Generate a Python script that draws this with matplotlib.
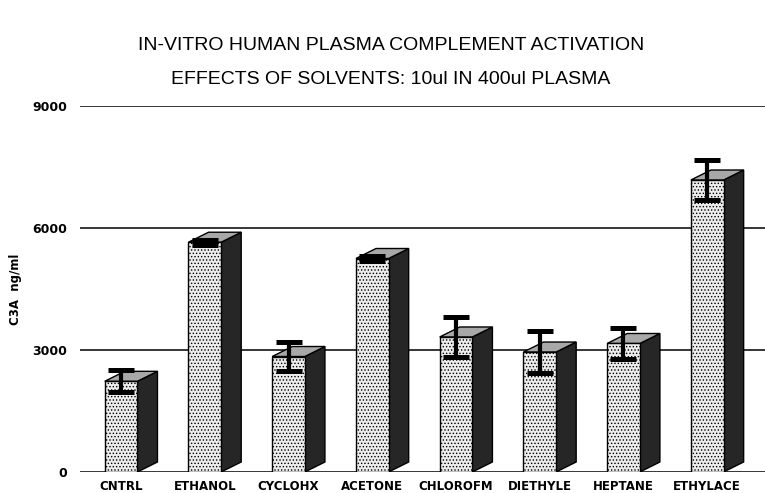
import matplotlib
matplotlib.use("Agg")

import matplotlib.pyplot as plt
from matplotlib.patches import Polygon, Rectangle

# data
solvents = ['CNTRL', 'ETHANOL', 'CYCLOHX', 'ACETONE',
            'CHLOROFM', 'DIETHYLE', 'HEPTANE', 'ETHYLACE']
c3a_mean = [2230, 5650, 2840, 5250, 3320, 2950, 3160, 7180]
c3a_err = [270, 60, 360, 60, 490, 520, 380, 490]
y_ticks = [0, 3000, 6000, 9000]

_TITLE_1 = 'IN-VITRO HUMAN PLASMA COMPLEMENT ACTIVATION'
_TITLE_2 = 'EFFECTS OF SOLVENTS: 10ul IN 400ul PLASMA'

_BAR_W = 0.39
_DEPTH_X = 0.24
_DEPTH_Y = 246


def draw_graph():
  plt.rcParams['hatch.color'] = '#8c8c8c'
  plt.rcParams['hatch.linewidth'] = 0.6

  fig = plt.figure(figsize=(7.65, 4.93), dpi=100)
  ax = fig.add_axes([80 / 765, 1 - 472 / 493, 685 / 765, 366 / 493])

  ax.set_xlim(-0.49, 7.69)
  ax.set_ylim(0, 9000)

  for val in y_ticks:
    ax.axhline(val, color='black', linewidth=1.1, zorder=1)

  for i, val in enumerate(c3a_mean):
    left = i - _BAR_W / 2
    right = i + _BAR_W / 2
    front = Rectangle((left, 0), _BAR_W, val, facecolor='#ececec',
                      edgecolor='black', linewidth=1.0, hatch='.....',
                      zorder=3)
    side = Polygon([(right, 0), (right + _DEPTH_X, _DEPTH_Y),
                    (right + _DEPTH_X, val + _DEPTH_Y), (right, val)],
                   closed=True, facecolor='#262626', edgecolor='black',
                   linewidth=1.0, zorder=3)
    top = Polygon([(left, val), (left + _DEPTH_X, val + _DEPTH_Y),
                   (right + _DEPTH_X, val + _DEPTH_Y), (right, val)],
                  closed=True, facecolor='#a8a8a8', edgecolor='black',
                  linewidth=1.0, zorder=3)
    ax.add_patch(side)
    ax.add_patch(top)
    ax.add_patch(front)

  ax.errorbar(range(len(solvents)), c3a_mean, yerr=c3a_err, fmt='none',
              ecolor='black', elinewidth=3.0, capsize=9.5, capthick=3.6,
              zorder=5)

  for spine in ax.spines.values():
    spine.set_visible(False)

  ax.set_xticks(range(len(solvents)))
  ax.set_xticklabels(solvents, fontsize=8.5, fontweight='bold')
  ax.set_yticks(y_ticks)
  ax.set_yticklabels([str(t) for t in y_ticks], fontsize=9,
                     fontweight='bold')
  ax.tick_params(axis='both', length=0)
  ax.tick_params(axis='y', pad=9)
  ax.tick_params(axis='x', pad=6)

  ax.set_ylabel('C3A  ng/ml', fontsize=8.5, fontweight='bold')
  ax.yaxis.set_label_coords(-0.085, 0.5)

  fig.text(0.511, 1 - 46 / 493, _TITLE_1, ha='center', va='center',
           fontsize=14, family='Liberation Sans')
  fig.text(0.511, 1 - 79 / 493, _TITLE_2, ha='center', va='center',
           fontsize=14, family='Liberation Sans')

  fig.savefig('out.png', dpi=100)
  plt.close(fig)


if __name__ == '__main__':
  draw_graph()
